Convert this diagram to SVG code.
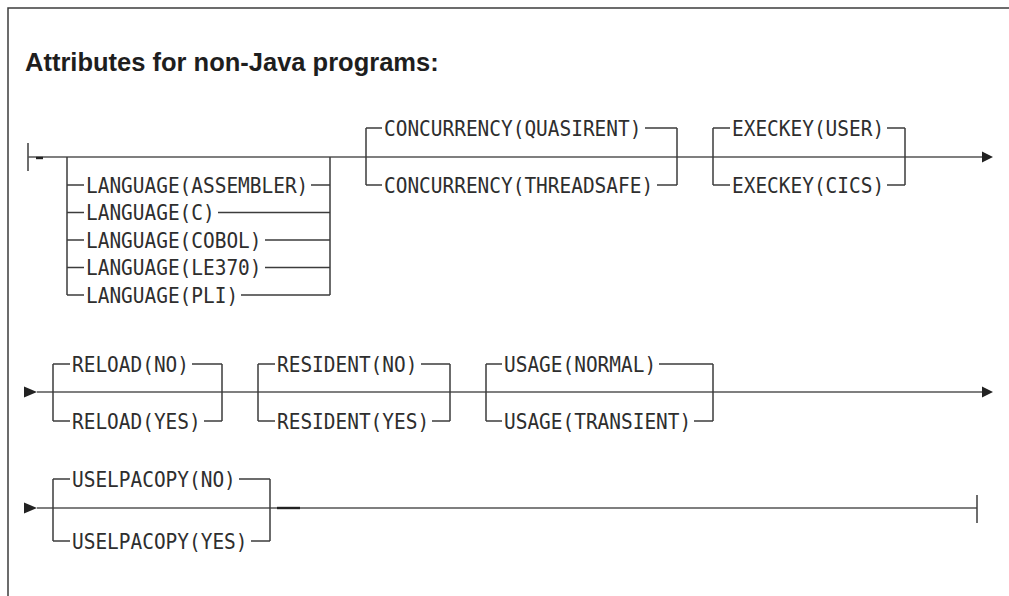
<svg xmlns="http://www.w3.org/2000/svg" width="1009" height="596" viewBox="0 0 1009 596">
<defs>
<style>
.t{font-family:"DejaVu Sans Mono","Liberation Mono",monospace;font-size:21px;fill:#2e2e2e;}
.title{font-family:"Liberation Sans",Arial,sans-serif;font-weight:bold;font-size:25.5px;fill:#1e1e1e;}
.l{stroke:#3c3c3c;stroke-width:1.5;fill:none;}
.m{stroke:#555;stroke-width:1.6;fill:none;}
.d{stroke:#222;stroke-width:2.4;fill:none;}
.a{fill:#222;}
</style>
</defs>
<rect width="1009" height="596" fill="#fff"/>
<g id="frame">
<path class="l" d="M8,596 V8 H1009"/>
</g>
<g id="title">
<text class="title" x="25" y="70.5">Attributes for non-Java programs:</text>
</g>
<g id="connectors">
<!-- row 1 -->
<path class="l" d="M28,143 V171"/>
<path class="m" d="M28,157 H982"/>
<path class="d" d="M36,158 H43"/>
<polygon class="a" points="982,151.5 993,157 982,162.5"/>
<!-- language bracket -->
<path class="l" d="M67,157 V295 M330,157 V295"/>
<path class="l" d="M67,185 H84 M311,185 H330"/>
<path class="l" d="M67,212.5 H84 M218,212.5 H330"/>
<path class="l" d="M67,240 H84 M265,240 H330"/>
<path class="l" d="M67,267.5 H84 M265,267.5 H330"/>
<path class="l" d="M67,295 H84 M241,295 H330"/>
<!-- concurrency -->
<path class="l" d="M366,128 V185 M677,128 V185"/>
<path class="l" d="M366,128 H382 M645,128 H677"/>
<path class="l" d="M366,185 H382 M657,185 H677"/>
<!-- execkey -->
<path class="l" d="M713,128 V185 M905,128 V185"/>
<path class="l" d="M713,128 H730 M887,128 H905"/>
<path class="l" d="M713,185 H730 M887,185 H905"/>
<!-- row 2 -->
<polygon class="a" points="24,386.5 37,392 24,397.5"/>
<path class="m" d="M37,392 H982"/>
<polygon class="a" points="982,386.5 993,392 982,397.5"/>
<path class="l" d="M53,364 V421 M222,364 V421"/>
<path class="l" d="M53,364 H70 M192,364 H222"/>
<path class="l" d="M53,421 H70 M204,421 H222"/>
<path class="l" d="M258,364 V421 M450,364 V421"/>
<path class="l" d="M258,364 H275 M421,364 H450"/>
<path class="l" d="M258,421 H275 M432,421 H450"/>
<path class="l" d="M486,364 V421 M713,364 V421"/>
<path class="l" d="M486,364 H502 M659,364 H713"/>
<path class="l" d="M486,421 H502 M694,421 H713"/>
<!-- row 3 -->
<polygon class="a" points="24,502.5 37,508 24,513.5"/>
<path class="m" d="M37,508 H977"/>
<path class="l" d="M977,495 V523"/>
<path class="d" d="M277,508 H300"/>
<path class="l" d="M53,479 V541 M270,479 V541"/>
<path class="l" d="M53,479 H70 M239,479 H270"/>
<path class="l" d="M53,541 H70 M251,541 H270"/>
</g>
<g id="language">
<text class="t" x="86" y="192.8" textLength="222.3" lengthAdjust="spacingAndGlyphs">LANGUAGE(ASSEMBLER)</text>
<text class="t" x="86" y="220.3" textLength="128.7" lengthAdjust="spacingAndGlyphs">LANGUAGE(C)</text>
<text class="t" x="86" y="247.8" textLength="175.5" lengthAdjust="spacingAndGlyphs">LANGUAGE(COBOL)</text>
<text class="t" x="86" y="275.3" textLength="175.5" lengthAdjust="spacingAndGlyphs">LANGUAGE(LE370)</text>
<text class="t" x="86" y="302.8" textLength="152.1" lengthAdjust="spacingAndGlyphs">LANGUAGE(PLI)</text>
</g>
<g id="concurrency">
<text class="t" x="384" y="135.8" textLength="257.4" lengthAdjust="spacingAndGlyphs">CONCURRENCY(QUASIRENT)</text>
<text class="t" x="384" y="192.8" textLength="269.1" lengthAdjust="spacingAndGlyphs">CONCURRENCY(THREADSAFE)</text>
</g>
<g id="execkey">
<text class="t" x="732" y="135.8" textLength="152.1" lengthAdjust="spacingAndGlyphs">EXECKEY(USER)</text>
<text class="t" x="732" y="192.8" textLength="152.1" lengthAdjust="spacingAndGlyphs">EXECKEY(CICS)</text>
</g>
<g id="reload">
<text class="t" x="72" y="371.8" textLength="117" lengthAdjust="spacingAndGlyphs">RELOAD(NO)</text>
<text class="t" x="72" y="428.8" textLength="128.7" lengthAdjust="spacingAndGlyphs">RELOAD(YES)</text>
</g>
<g id="resident">
<text class="t" x="277" y="371.8" textLength="140.4" lengthAdjust="spacingAndGlyphs">RESIDENT(NO)</text>
<text class="t" x="277" y="428.8" textLength="152.1" lengthAdjust="spacingAndGlyphs">RESIDENT(YES)</text>
</g>
<g id="usage">
<text class="t" x="504" y="371.8" textLength="152.1" lengthAdjust="spacingAndGlyphs">USAGE(NORMAL)</text>
<text class="t" x="504" y="428.8" textLength="187.2" lengthAdjust="spacingAndGlyphs">USAGE(TRANSIENT)</text>
</g>
<g id="uselpacopy">
<text class="t" x="72" y="486.8" textLength="163.8" lengthAdjust="spacingAndGlyphs">USELPACOPY(NO)</text>
<text class="t" x="72" y="548.8" textLength="175.5" lengthAdjust="spacingAndGlyphs">USELPACOPY(YES)</text>
</g>
</svg>
